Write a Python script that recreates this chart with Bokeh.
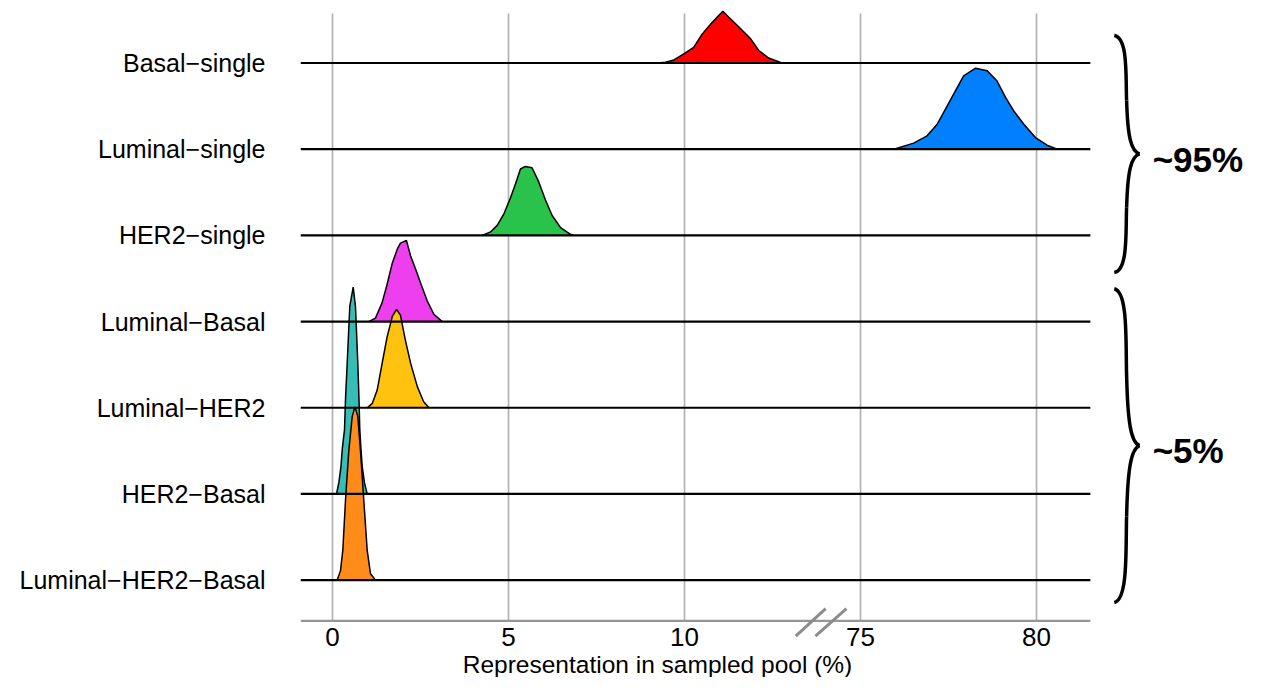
from bokeh.plotting import figure
from bokeh.models import FixedTicker
from bokeh.embed import file_html
from bokeh.resources import INLINE
from bokeh.core.properties import value

# ---------------- data ----------------
categories = ["Luminal\u2212HER2\u2212Basal", "HER2\u2212Basal", "Luminal\u2212HER2",
              "Luminal\u2212Basal", "HER2\u2212single", "Luminal\u2212single", "Basal\u2212single"]
colors = ["#FF8C1A", "#36BDB5", "#FFC20E", "#EE3FEE", "#29C24A", "#0080FF", "#FF0000"]

# density profiles (x in %, height in ridge units)
basal_single_x = [9.23, 9.46, 9.70, 9.98, 10.26, 10.50, 10.74, 10.97, 11.09, 11.26, 11.59, 11.88, 12.11, 12.39, 12.73, 12.92]
basal_single_h = [0.0, 0.01, 0.035, 0.105, 0.18, 0.335, 0.45, 0.55, 0.60, 0.53, 0.40, 0.28, 0.145, 0.058, 0.007, 0.0]

luminal_single_x = [75.95, 76.51, 76.89, 77.18, 77.46, 77.70, 77.93, 78.27, 78.60, 78.88, 79.12, 79.36, 79.64, 79.97, 80.30, 80.59]
luminal_single_h = [0.0, 0.07, 0.155, 0.29, 0.50, 0.68, 0.85, 0.94, 0.91, 0.79, 0.60, 0.44, 0.29, 0.135, 0.046, 0.0]

her2_single_x = [4.25, 4.49, 4.68, 4.87, 5.06, 5.20, 5.34, 5.48, 5.67, 5.86, 6.05, 6.24, 6.48, 6.76, 6.86]
her2_single_h = [0.0, 0.04, 0.116, 0.25, 0.44, 0.60, 0.77, 0.80, 0.785, 0.62, 0.41, 0.23, 0.09, 0.012, 0.0]

luminal_basal_x = [1.03, 1.22, 1.41, 1.55, 1.70, 1.84, 1.93, 2.10, 2.22, 2.36, 2.50, 2.69, 2.88, 3.07, 3.12]
luminal_basal_h = [0.0, 0.04, 0.22, 0.43, 0.68, 0.84, 0.91, 0.94, 0.76, 0.61, 0.45, 0.24, 0.085, 0.016, 0.0]

luminal_her2_x = [0.99, 1.13, 1.27, 1.41, 1.55, 1.70, 1.82, 1.93, 2.07, 2.22, 2.41, 2.59, 2.74]
luminal_her2_h = [0.0, 0.05, 0.205, 0.515, 0.82, 1.06, 1.14, 1.075, 0.785, 0.515, 0.245, 0.07, 0.0]

her2_basal_x = [0.114, 0.179, 0.241, 0.276, 0.341, 0.369, 0.418, 0.491, 0.588, 0.653, 0.719, 0.753, 0.776, 0.810, 0.844, 0.909, 0.986]
her2_basal_h = [0.0, 0.128, 0.32, 0.514, 0.746, 1.094, 1.52, 2.176, 2.40, 2.176, 1.52, 1.094, 0.746, 0.514, 0.32, 0.128, 0.0]

luminal_her2_basal_x = [0.134, 0.227, 0.293, 0.369, 0.463, 0.560, 0.639, 0.719, 0.795, 0.889, 0.986, 1.080, 1.222]
luminal_her2_basal_h = [0.0, 0.11, 0.345, 0.925, 1.50, 1.90, 2.01, 1.90, 1.50, 0.925, 0.345, 0.074, 0.0]

ridges_x = [luminal_her2_basal_x, her2_basal_x, luminal_her2_x, luminal_basal_x,
            her2_single_x, luminal_single_x, basal_single_x]
ridges_h = [luminal_her2_basal_h, her2_basal_h, luminal_her2_h, luminal_basal_h,
            her2_single_h, luminal_single_h, basal_single_h]

tick_values = [0, 5, 10, 75, 80]
tick_labels = ["0", "5", "10", "75", "80"]
group_labels = ["~95%", "~5%"]
group_spans = [(3.57, 6.32), (-0.26, 3.38)]   # vertical extent of each brace, in row units

x_title = "Representation in sampled pool (%)"

# broken axis: values >= 75 are shifted next to the left part
BREAK_SHIFT = 60
def pos(v):
    return v - BREAK_SHIFT if v >= 75 else v

FONT = value("Liberation Sans")

# ---------------- figure ----------------
X0, X1 = -0.909, 26.051
Y0, Y1 = -1.130, 6.725
p = figure(width=1249, height=677, x_range=(X0, X1), y_range=(Y0, Y1),
           output_backend="svg", toolbar_location=None, x_axis_location=None,
           min_border_left=300, min_border_right=0, min_border_top=0, min_border_bottom=0)
p.outline_line_color = None
p.xgrid.visible = False
p.ygrid.visible = False
p.background_fill_color = "white"
p.border_fill_color = "white"

yax = p.yaxis[0]
yax.ticker = FixedTicker(ticks=list(range(len(categories))))
yax.major_label_overrides = {i: c for i, c in enumerate(categories)}
yax.axis_line_color = None
yax.major_tick_line_color = None
yax.minor_tick_line_color = None
yax.major_tick_out = 0
yax.major_tick_in = 0
yax.major_label_standoff = 35
yax.major_label_text_font = "Liberation Sans"
yax.major_label_text_font_size = "25px"
yax.major_label_text_color = "#000000"

AXIS_Y = -0.473
PANEL_RIGHT = 21.53
GRID_TOP = 6.574

# vertical grid lines
gx = [pos(v) for v in tick_values]
p.segment(x0=gx, y0=[AXIS_Y] * len(gx), x1=gx, y1=[GRID_TOP] * len(gx),
          line_color="#B0B0B0", line_width=1.6)

# ridges, drawn from top row to bottom row
for i in range(len(categories) - 1, -1, -1):
    xs = [pos(v) for v in ridges_x[i]]
    ys = [i + h for h in ridges_h[i]]
    p.patch(xs, ys, fill_color=colors[i], line_color=None)
    p.line(xs, ys, line_color="black", line_width=1.5)

# baselines on top
rows = list(range(len(categories)))
p.segment(x0=[X0] * len(rows), y0=rows, x1=[PANEL_RIGHT] * len(rows), y1=rows,
          line_color="black", line_width=2.2)

# x axis line
p.segment(x0=[X0], y0=[AXIS_Y], x1=[PANEL_RIGHT], y1=[AXIS_Y], line_color="#969696", line_width=2.4)

# axis break marks
bx = 13.88
p.segment(x0=[bx - 0.72, bx - 0.16], y0=[-0.650, -0.650], x1=[bx + 0.13, bx + 0.72], y1=[-0.332, -0.332],
          line_color="#8C8C8C", line_width=3)

# tick labels
p.text(x=gx, y=[-0.665] * len(gx), text=tick_labels, text_font=FONT, text_font_size="26px",
       text_align="center", text_baseline="middle", text_color="#000000")

# axis title
p.text(x=[9.233], y=[-0.975], text=[x_title], text_font=FONT, text_font_size="24.5px",
       text_align="center", text_baseline="middle", text_color="#000000")

# braces
def brace(bottom, top, xl=22.21, xs=22.56, xp=22.93):
    mid = (top + bottom) / 2.0
    half = (top - mid)
    segs = []
    segs.append(((xl, top), (xs + 0.05, top - 0.02 * half), (xs - 0.03, top - 0.35 * half), (xs, top - 0.55 * half)))
    segs.append(((xs, top - 0.55 * half), (xs + 0.03, top - 0.85 * half), (xs + 0.12, mid + 0.02 * half), (xp, mid)))
    segs.append(((xp, mid), (xs + 0.12, mid - 0.02 * half), (xs + 0.03, bottom + 0.85 * half), (xs, bottom + 0.55 * half)))
    segs.append(((xs, bottom + 0.55 * half), (xs - 0.03, bottom + 0.35 * half), (xs + 0.05, bottom + 0.02 * half), (xl, bottom)))
    return segs

for (b, t), lab in zip(group_spans, group_labels):
    segs = brace(b, t)
    p.bezier(x0=[s[0][0] for s in segs], y0=[s[0][1] for s in segs],
             x1=[s[3][0] for s in segs], y1=[s[3][1] for s in segs],
             cx0=[s[1][0] for s in segs], cy0=[s[1][1] for s in segs],
             cx1=[s[2][0] for s in segs], cy1=[s[2][1] for s in segs],
             line_color="black", line_width=3.5)
    p.text(x=[23.30], y=[(t + b) / 2.0 - 0.06], text=[lab], text_font=FONT,
           text_font_size="35px", text_font_style="bold", text_align="left",
           text_baseline="middle", text_color="#000000")

open("out.html", "w").write(file_html(p, INLINE))
